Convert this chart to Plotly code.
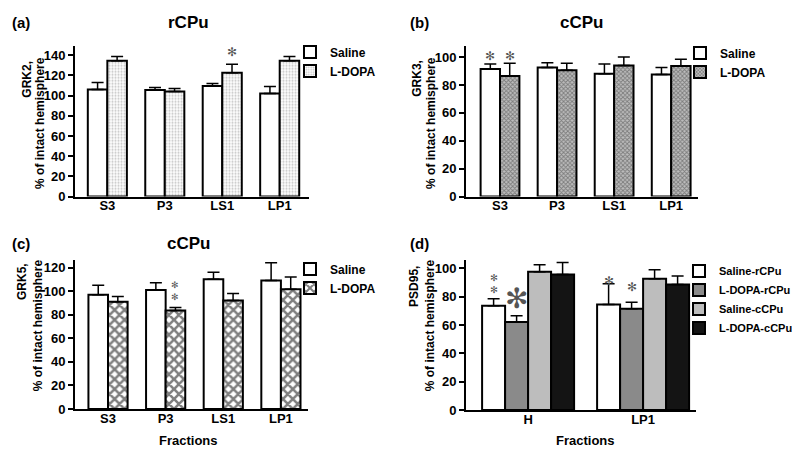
import plotly.graph_objects as go

# categories
fractions = ["S3", "P3", "LS1", "LP1"]
psd_fractions = ["H", "LP1"]

# (a) GRK2, rCPu
grk2_saline = [106, 105.5, 109.5, 102]
grk2_saline_err = [7, 2.5, 2.5, 7]
grk2_ldopa = [134.5, 104, 122.5, 134.5]
grk2_ldopa_err = [4, 3, 8.5, 4]

# (b) GRK3, cCPu
grk3_saline = [91.5, 92.5, 88, 87.5]
grk3_saline_err = [3.5, 3.5, 7, 5]
grk3_ldopa = [86.5, 90.5, 94, 93.5]
grk3_ldopa_err = [9, 5, 6, 5]

# (c) GRK5, cCPu
grk5_saline = [97, 101, 110, 109]
grk5_saline_err = [8, 6, 6, 15]
grk5_ldopa = [91, 83.5, 92, 101.5]
grk5_ldopa_err = [4.5, 2.5, 6, 10.5]

# (d) PSD95
psd_saline_r = [73.5, 74.5]
psd_saline_r_err = [5, 14.5]
psd_ldopa_r = [62, 71.5]
psd_ldopa_r_err = [4.5, 4.5]
psd_saline_c = [97.5, 92.5]
psd_saline_c_err = [5, 6.5]
psd_ldopa_c = [95.5, 88.5]
psd_ldopa_c_err = [8.5, 6]

# significance stars: (panel, category index, bar index, y centre, count, size)
stars = [
    ("a", 0, 1, 156, 2, 10),
    ("a", 2, 1, 143.5, 1, 12),
    ("a", 3, 1, 156, 2, 10),
    ("b", 0, 0, 101, 1, 12), ("b", 0, 1, 101, 1, 12),
    ("c", 1, 1, 100.5, 2, 9),
    ("d", 0, 0, 89.5, 2, 9.5),
    ("d", 0, 1, 79, 1, 28),
    ("d", 1, 0, 91, 1, 12), ("d", 1, 1, 86.5, 1, 12),
]

FONT = "Liberation Sans, Arial, sans-serif"
W, H = 800, 450


def px(x):
    return x / W


def py(y):
    return 1 - y / H


axes = {
    "a": dict(x="x", y="y", xa="xaxis", ya="yaxis", legend="legend"),
    "b": dict(x="x2", y="y2", xa="xaxis2", ya="yaxis2", legend="legend2"),
    "c": dict(x="x3", y="y3", xa="xaxis3", ya="yaxis3", legend="legend3"),
    "d": dict(x="x4", y="y4", xa="xaxis4", ya="yaxis4", legend="legend4"),
}

white = dict(color="white")
stipple = dict(color="white", pattern=dict(shape=".", size=3, solidity=0.4,
                                            fgcolor="#8a8a8a", bgcolor="white"))
checker = dict(color="white", pattern=dict(shape="x", size=3, solidity=0.5,
                                            fgcolor="#3a3a3a", bgcolor="#bdbdbd"))
cross = dict(color="white", pattern=dict(shape="x", size=7, solidity=0.6,
                                          fgcolor="black", bgcolor="white"))

panels = {
    "a": (fractions, [("Saline", grk2_saline, grk2_saline_err, white),
                      ("L-DOPA", grk2_ldopa, grk2_ldopa_err, stipple)], 0.34),
    "b": (fractions, [("Saline", grk3_saline, grk3_saline_err, white),
                      ("L-DOPA", grk3_ldopa, grk3_ldopa_err, checker)], 0.34),
    "c": (fractions, [("Saline", grk5_saline, grk5_saline_err, white),
                      ("L-DOPA", grk5_ldopa, grk5_ldopa_err, cross)], 0.34),
    "d": (psd_fractions, [("Saline-rCPu", psd_saline_r, psd_saline_r_err, dict(color="white")),
                          ("L-DOPA-rCPu", psd_ldopa_r, psd_ldopa_r_err, dict(color="#8a8a8a")),
                          ("Saline-cCPu", psd_saline_c, psd_saline_c_err, dict(color="#bdbdbd")),
                          ("L-DOPA-cCPu", psd_ldopa_c, psd_ldopa_c_err, dict(color="#141414"))], 0.2),
}

fig = go.Figure()
for key, (cats, series, bw) in panels.items():
    n = len(series)
    for k, (name, vals, errs, marker) in enumerate(series):
        m = dict(marker)
        m["line"] = dict(color="black", width=2)
        fig.add_trace(go.Bar(
            x=cats, y=vals, name="<b>" + name + "</b>", width=bw,
            offset=-n * bw / 2 + k * bw,
            marker=m, xaxis=axes[key]["x"], yaxis=axes[key]["y"],
            legend=axes[key]["legend"],
            error_y=dict(type="data", array=errs, arrayminus=[0] * len(errs),
                         symmetric=False, color="black", thickness=1.5, width=6),
        ))

# axis geometry in pixels: (left, right, bottom, top), x range, y range, y max tick
geom = {
    "a": ((67, 301, 192, 39), [-0.563, 3.51], [0, 148.7], 140),
    "b": ((458, 690, 192, 39), [-0.596, 3.47], [0, 107.7], 100),
    "c": ((67, 300, 408.3, 257), [-0.573, 3.47], [0, 126], 120),
    "d": ((458, 688, 409.3, 257), [-0.54, 1.46], [0, 105.5], 100),
}

tickfont = dict(family=FONT, size=13, color="black", weight="bold")
for key, ((l, r, b, t), xr, yr, ymax) in geom.items():
    xa = dict(domain=[px(l), px(r)], range=xr, anchor=axes[key]["y"],
              showline=True, linecolor="black", linewidth=2, ticks="",
              showgrid=False, tickfont=tickfont, type="category", fixedrange=True,
              ticklabelstandoff=-4)
    ya = dict(domain=[py(b), py(t)], range=yr, anchor=axes[key]["x"],
              showline=True, linecolor="black", linewidth=2, ticks="outside",
              ticklen=5, tickwidth=1.5, tickcolor="black", showgrid=False,
              zeroline=False, tickvals=list(range(0, ymax + 1, 20)),
              tickfont=tickfont, fixedrange=True)
    fig.update_layout({axes[key]["xa"]: xa, axes[key]["ya"]: ya})

legend_style = dict(bgcolor="rgba(0,0,0,0)", yanchor="top", xanchor="left",
                    itemclick=False, tracegroupgap=0)
lfont = dict(family=FONT, size=12, color="black")
fig.update_layout(
    legend=dict(x=px(282), y=py(30), font=lfont, **legend_style),
    legend2=dict(x=px(672), y=py(31), font=lfont, **legend_style),
    legend3=dict(x=px(282), y=py(251), font=lfont, **legend_style),
    legend4=dict(x=px(671), y=py(253), font=dict(lfont, size=11), **legend_style),
)

annotations = []
# panel labels, titles and x axis titles
for text, x, y, size in [("(a)", 13, 15, 15), ("(b)", 411, 15, 15),
                         ("(c)", 13, 240, 15), ("(d)", 411, 240, 15),
                         ("rCPu", 180, 15, 17), ("cCPu", 573, 15, 17),
                         ("cCPu", 180, 240, 17),
                         ("Fractions", 180, 440, 13), ("Fractions", 577, 440, 13)]:
    annotations.append(dict(text=text, x=px(x), y=py(y), xref="paper", yref="paper",
                            xanchor="center", yanchor="middle", showarrow=False,
                            font=dict(family=FONT, size=size, color="black",
                                      weight="bold")))
# y axis titles (two lines each)
for text, x, y in [("GRK2,", 19, 73), ("% of intact hemisphere", 32, 117),
                   ("GRK3,", 409, 72), ("% of intact hemisphere", 423, 117),
                   ("GRK5,", 14, 279), ("% of intact hemisphere", 30, 323),
                   ("PSD95,", 406, 283), ("% of intact hemisphere", 422, 323)]:
    annotations.append(dict(text=text, x=px(x), y=py(y), xref="paper", yref="paper",
                            xanchor="center", yanchor="middle",
                            textangle=-90, showarrow=False,
                            font=dict(family=FONT, size=12, color="black", weight="bold")))
# stars
for key, ci, bi, yv, count, size in stars:
    cats, series, bw = panels[key]
    n = len(series)
    xv = ci - n * bw / 2 + (bi + 0.5) * bw
    annotations.append(dict(text="<br>".join(["✻"] * count), x=xv, y=yv,
                            xref=axes[key]["x"], yref=axes[key]["y"],
                            xanchor="center", yanchor="middle", showarrow=False,
                            font=dict(family="DejaVu Sans", size=size, color="#555555")))

fig.update_layout(
    annotations=annotations,
    barmode="overlay",
    width=W, height=H,
    margin=dict(l=0, r=0, t=0, b=0),
    paper_bgcolor="white", plot_bgcolor="white",
    font=dict(family=FONT, color="black"),
)

fig.write_html("out.html")
